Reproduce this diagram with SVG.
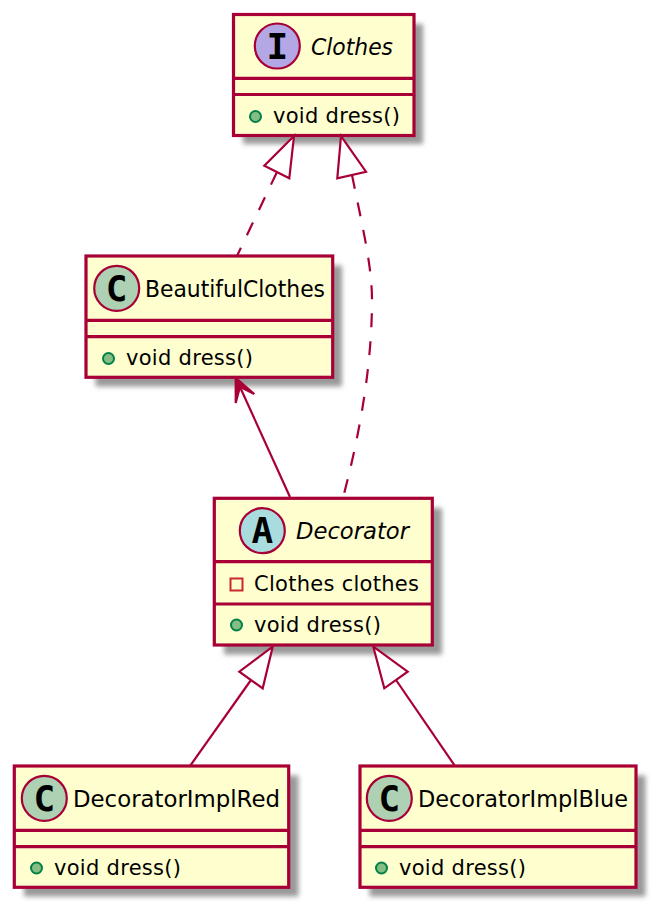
<svg xmlns="http://www.w3.org/2000/svg" width="656" height="910" viewBox="0 0 656 910">
<defs>
<filter id="sh" x="-10%" y="-10%" width="125%" height="125%"><feGaussianBlur stdDeviation="2.5"/></filter>
</defs>
<style>
.s{fill:#9a9a9a;filter:url(#sh)}
.b{fill:#FEFECE;stroke:#A80036;stroke-width:3.2}
.d{stroke:#A80036;stroke-width:3.2;fill:none}
.c{stroke:#A80036;stroke-width:2.2}
.t{font-family:"DejaVu Sans",sans-serif;font-size:23px;fill:#000}
.i{font-style:italic}
.m{font-family:"DejaVu Sans",sans-serif;font-size:21px;fill:#000}
.g{font-family:"DejaVu Sans Mono",monospace;font-weight:bold;font-size:36px;fill:#000;text-anchor:middle}
.pub{fill:#84BE84;stroke:#038048;stroke-width:2}
.pri{fill:none;stroke:#C82930;stroke-width:2}
.l{stroke:#A80036;stroke-width:2.2;fill:none}
.h{fill:#fff;stroke:#A80036;stroke-width:2.2}
</style>
<g id="Clothes">
<rect class="s" x="243" y="24" width="180" height="120"/>
<rect class="b" x="233.5" y="14.5" width="180.5" height="121"/>
<path class="d" d="M233.5 78.3H414M233.5 94.5H414"/>
<circle class="c" cx="277.3" cy="46" r="22.5" fill="#B4A7E5"/>
<text class="g" x="277.3" y="58.5">I</text>
<text class="t i" x="311" y="55" textLength="82" lengthAdjust="spacingAndGlyphs">Clothes</text>
<circle class="pub" cx="255.5" cy="116.5" r="5.5"/>
<text class="m" x="273" y="123" textLength="127">void dress()</text>
</g>
<g id="BeautifulClothes">
<rect class="s" x="95.5" y="265.5" width="246.5" height="121"/>
<rect class="b" x="86" y="256" width="246.7" height="121.3"/>
<path class="d" d="M86 320.3H332.7M86 336.7H332.7"/>
<circle class="c" cx="116.7" cy="288.3" r="22.5" fill="#ADD1B2"/>
<text class="g" x="116.7" y="300.8">C</text>
<text class="t" x="145" y="297" textLength="180" lengthAdjust="spacingAndGlyphs">BeautifulClothes</text>
<circle class="pub" cx="108.5" cy="358.5" r="5.5"/>
<text class="m" x="126" y="365" textLength="127">void dress()</text>
</g>
<g id="Decorator">
<rect class="s" x="224" y="508" width="218" height="146.5"/>
<rect class="b" x="214.3" y="498.3" width="218" height="146.7"/>
<path class="d" d="M214.3 561.7H432.3M214.3 604H432.3"/>
<circle class="c" cx="262.3" cy="530.7" r="22.5" fill="#A9DCDF"/>
<text class="g" x="262.3" y="543.2">A</text>
<text class="t i" x="296" y="539" textLength="113" lengthAdjust="spacingAndGlyphs">Decorator</text>
<rect class="pri" x="230.5" y="578.5" width="12" height="12"/>
<text class="m" x="254" y="591" textLength="165">Clothes clothes</text>
<circle class="pub" cx="236.5" cy="625" r="5.5"/>
<text class="m" x="254" y="632" textLength="127">void dress()</text>
</g>
<g id="DecoratorImplRed">
<rect class="s" x="24" y="775.5" width="274.5" height="121"/>
<rect class="b" x="14.3" y="766" width="274.4" height="121.3"/>
<path class="d" d="M14.3 830.3H288.7M14.3 846.7H288.7"/>
<circle class="c" cx="44.3" cy="798.3" r="22.5" fill="#ADD1B2"/>
<text class="g" x="44.3" y="810.8">C</text>
<text class="t" x="73" y="807" textLength="207" lengthAdjust="spacingAndGlyphs">DecoratorImplRed</text>
<circle class="pub" cx="36.5" cy="868" r="5.5"/>
<text class="m" x="54" y="875" textLength="127">void dress()</text>
</g>
<g id="DecoratorImplBlue">
<rect class="s" x="369.5" y="775.5" width="276" height="121"/>
<rect class="b" x="360" y="766" width="276" height="121.3"/>
<path class="d" d="M360 830.3H636M360 846.7H636"/>
<circle class="c" cx="389.3" cy="798.3" r="22.5" fill="#ADD1B2"/>
<text class="g" x="389.3" y="810.8">C</text>
<text class="t" x="418" y="807" textLength="210" lengthAdjust="spacingAndGlyphs">DecoratorImplBlue</text>
<circle class="pub" cx="381.5" cy="868" r="5.5"/>
<text class="m" x="399" y="875" textLength="127">void dress()</text>
</g>
<g id="connectors">
<path class="l" stroke-dasharray="14 14" d="M277 172L237 256"/>
<polygon class="h" points="294,136 264.3,165.7 289.3,178.3"/>
<path class="l" stroke-dasharray="14 14" d="M352 175C362 225 372 265 372 300C372 370 358 440 344 494"/>
<polygon class="h" points="341,136 337.3,178.3 366,171.7"/>
<path class="l" d="M290 497L240 387"/>
<polygon points="235.7,378 235.7,403 240,386.7 254.3,394" fill="#A80036" stroke="#A80036" stroke-width="2.2"/>
<path class="l" d="M251 680L190 766"/>
<polygon class="h" points="272.7,646.7 239.3,671.7 262.7,688.3"/>
<path class="l" d="M396 680L455 766"/>
<polygon class="h" points="373.3,646.7 407.7,671.7 384.3,688.3"/>
</g>
</svg>
